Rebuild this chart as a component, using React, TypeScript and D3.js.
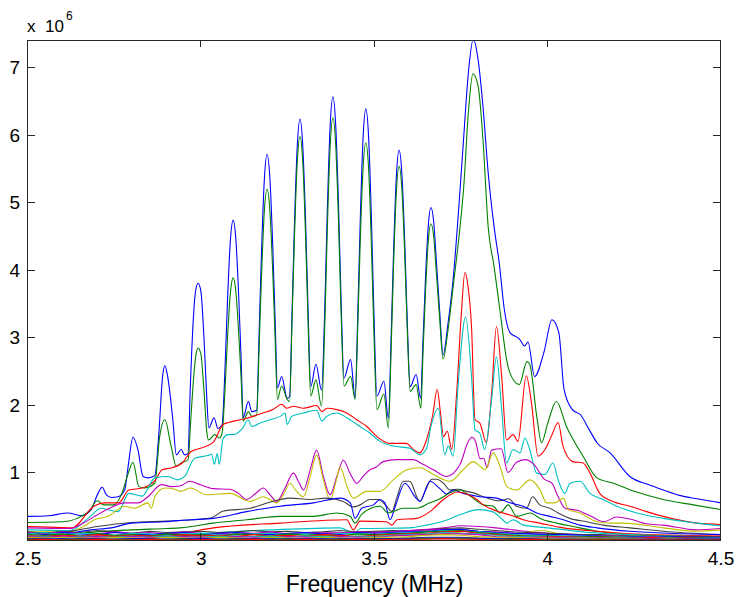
import React from 'react';
import * as d3 from 'd3';

type P = [number, number];

const X_TICKS = [2.5, 3, 3.5, 4, 4.5];
const Y_TICKS = [1, 2, 3, 4, 5, 6, 7];
const X_LABEL = 'Frequency (MHz)';

const C_B = '#0000ff', C_G = '#008000', C_R = '#ff0000', C_C = '#00bfbf', C_M = '#bf00bf', C_Y = '#bfbf00', C_K = '#404040';

// values in units of 1e6
const BLUE_1: P[] = [[2.500,0.35],[2.560,0.36],[2.615,0.40],[2.653,0.36],[2.682,0.45],[2.702,0.69],[2.714,0.78],[2.726,0.67],[2.740,0.63],[2.760,0.64],[2.779,0.74],[2.789,1.09],[2.803,1.52],[2.817,1.34],[2.832,0.94],[2.846,0.92],[2.866,0.95],[2.877,1.53],[2.889,2.45],[2.895,2.58],[2.902,2.45],[2.918,1.78],[2.928,1.26],[2.942,1.34],[2.952,1.26],[2.962,1.28],[2.968,2.20],[2.977,3.26],[2.984,3.70],[2.991,3.80],[2.999,3.68],[3.009,2.87],[3.016,2.10],[3.022,1.66],[3.037,1.81],[3.048,1.65],[3.060,1.70],[3.069,2.60],[3.076,3.57],[3.084,4.43],[3.092,4.73],[3.100,4.44],[3.108,3.62],[3.115,2.69],[3.121,1.81],[3.136,2.05],[3.146,1.90],[3.160,1.92],[3.167,3.06],[3.174,4.27],[3.182,5.33],[3.190,5.71],[3.198,5.36],[3.206,4.40],[3.213,3.29],[3.220,2.25],[3.232,2.42],[3.248,2.10],[3.255,2.12],[3.262,3.35],[3.269,4.67],[3.277,5.82],[3.285,6.23],[3.293,5.83],[3.301,4.73],[3.308,3.46],[3.316,2.27],[3.331,2.60],[3.347,2.22],[3.357,3.52],[3.364,4.91],[3.372,6.13],[3.380,6.56],[3.388,6.14],[3.396,4.98],[3.403,3.65],[3.412,2.40],[3.431,2.67],[3.444,2.10],[3.452,3.38],[3.459,4.75],[3.467,5.95],[3.475,6.38],[3.483,5.96],[3.491,4.77],[3.498,3.41],[3.507,2.13],[3.527,2.35],[3.540,1.80],[3.548,2.99],[3.555,4.26],[3.563,5.37],[3.571,5.77],[3.579,5.42],[3.587,4.44],[3.594,3.32],[3.603,2.27],[3.620,2.45],[3.633,2.10],[3.640,2.95],[3.647,3.85],[3.655,4.64],[3.663,4.92],[3.671,4.70],[3.679,4.09],[3.688,3.39],[3.698,2.74],[3.712,3.20],[3.727,3.86],[3.747,5.19],[3.757,5.93],[3.771,6.92],[3.785,7.41],[3.799,7.11],[3.813,6.42],[3.828,5.44],[3.846,4.60],[3.860,4.10],[3.875,3.40],[3.891,3.07],[3.919,2.97],[3.933,2.87],[3.943,2.93],[3.962,2.42],[3.990,2.80],[4.012,3.26],[4.032,3.07],[4.047,2.23],[4.071,1.93],[4.095,1.85],[4.120,1.63],[4.142,1.44],[4.180,1.29],[4.237,0.94],[4.290,0.82],[4.333,0.74],[4.380,0.66],[4.431,0.61],[4.500,0.55]];

const GREEN_1: P[] = [[2.500,0.26],[2.600,0.27],[2.675,0.42],[2.700,0.58],[2.718,0.52],[2.747,0.52],[2.771,0.69],[2.790,1.00],[2.803,1.15],[2.820,0.79],[2.835,0.77],[2.866,0.84],[2.880,1.53],[2.895,1.78],[2.913,1.39],[2.928,1.09],[2.942,1.14],[2.962,1.19],[2.970,1.80],[2.978,2.40],[2.985,2.75],[2.991,2.84],[2.999,2.75],[3.008,2.20],[3.016,1.60],[3.021,1.48],[3.039,1.56],[3.053,1.51],[3.060,1.58],[3.069,2.27],[3.076,3.01],[3.084,3.65],[3.092,3.88],[3.100,3.67],[3.108,3.07],[3.115,2.40],[3.121,1.76],[3.136,1.90],[3.146,1.83],[3.160,1.85],[3.167,2.85],[3.174,3.92],[3.182,4.86],[3.190,5.19],[3.198,4.88],[3.206,4.01],[3.213,3.01],[3.220,2.08],[3.232,2.28],[3.248,2.08],[3.255,2.05],[3.262,3.23],[3.269,4.48],[3.277,5.58],[3.285,5.97],[3.293,5.59],[3.301,4.51],[3.308,3.28],[3.316,2.13],[3.331,2.37],[3.347,1.98],[3.357,3.26],[3.364,4.63],[3.372,5.82],[3.380,6.25],[3.388,5.85],[3.396,4.74],[3.403,3.47],[3.412,2.28],[3.431,2.42],[3.444,2.08],[3.452,3.22],[3.459,4.44],[3.467,5.50],[3.475,5.88],[3.483,5.49],[3.491,4.38],[3.498,3.12],[3.507,1.93],[3.527,2.16],[3.540,1.66],[3.548,2.82],[3.555,4.06],[3.563,5.14],[3.571,5.53],[3.579,5.20],[3.587,4.26],[3.594,3.20],[3.603,2.20],[3.620,2.30],[3.634,1.95],[3.640,2.77],[3.647,3.64],[3.655,4.41],[3.663,4.68],[3.671,4.48],[3.679,3.92],[3.688,3.28],[3.698,2.68],[3.712,3.10],[3.727,3.75],[3.747,4.64],[3.757,5.19],[3.771,6.33],[3.784,6.90],[3.799,6.72],[3.813,5.93],[3.828,4.64],[3.845,4.05],[3.862,3.40],[3.882,2.65],[3.891,2.47],[3.918,2.30],[3.940,2.64],[3.948,2.60],[3.969,1.80],[3.982,1.44],[4.000,1.73],[4.025,2.05],[4.054,1.68],[4.102,1.24],[4.142,0.92],[4.190,0.84],[4.250,0.72],[4.333,0.60],[4.420,0.52],[4.500,0.45]];

const RED_1: P[] = [[2.500,0.20],[2.560,0.19],[2.627,0.18],[2.690,0.50],[2.723,0.55],[2.762,0.55],[2.791,0.74],[2.830,0.77],[2.868,0.89],[2.887,1.04],[2.916,1.07],[2.945,1.14],[2.971,1.31],[3.000,1.36],[3.035,1.45],[3.063,1.71],[3.079,1.74],[3.112,1.78],[3.150,1.83],[3.178,1.88],[3.207,1.93],[3.232,2.01],[3.246,1.95],[3.266,1.98],[3.295,1.95],[3.333,1.99],[3.348,1.90],[3.363,1.95],[3.391,1.93],[3.420,1.88],[3.449,1.78],[3.478,1.68],[3.507,1.53],[3.544,1.43],[3.592,1.43],[3.612,1.34],[3.631,1.29],[3.650,1.48],[3.668,1.85],[3.681,2.23],[3.690,1.90],[3.699,1.53],[3.710,1.61],[3.723,1.34],[3.737,2.17],[3.750,3.30],[3.761,3.96],[3.770,3.75],[3.780,3.16],[3.790,1.78],[3.804,1.73],[3.823,1.44],[3.838,2.17],[3.852,3.16],[3.867,2.42],[3.881,1.48],[3.900,1.56],[3.914,1.46],[3.938,2.43],[3.953,2.03],[3.972,1.24],[3.992,1.34],[4.010,1.53],[4.030,1.74],[4.044,1.39],[4.073,1.16],[4.102,1.14],[4.122,0.99],[4.150,0.69],[4.188,0.57],[4.237,0.50],[4.285,0.42],[4.333,0.35],[4.430,0.25],[4.500,0.23]];

const CYAN_1: P[] = [[2.500,0.15],[2.620,0.14],[2.680,0.35],[2.711,0.47],[2.760,0.42],[2.791,0.69],[2.830,0.65],[2.866,0.92],[2.904,0.94],[2.933,0.89],[2.952,0.94],[2.981,1.21],[3.019,1.25],[3.030,1.27],[3.038,1.12],[3.046,1.28],[3.052,1.12],[3.063,1.50],[3.077,1.56],[3.092,1.56],[3.120,1.66],[3.135,1.78],[3.146,1.68],[3.170,1.73],[3.199,1.78],[3.228,1.83],[3.242,1.88],[3.248,1.71],[3.261,1.83],[3.295,1.88],[3.333,1.92],[3.348,1.76],[3.362,1.83],[3.391,1.88],[3.420,1.81],[3.458,1.68],[3.487,1.58],[3.516,1.46],[3.554,1.39],[3.602,1.36],[3.631,1.26],[3.650,1.35],[3.663,1.68],[3.684,1.95],[3.703,1.26],[3.713,1.39],[3.727,1.24],[3.741,2.27],[3.763,3.30],[3.780,2.42],[3.790,1.63],[3.804,1.58],[3.818,1.34],[3.838,2.08],[3.852,2.71],[3.867,1.93],[3.881,1.14],[3.900,1.34],[3.920,1.29],[3.934,1.51],[3.948,1.34],[3.968,0.99],[3.992,0.97],[4.015,1.14],[4.030,0.89],[4.049,0.69],[4.064,0.84],[4.093,0.87],[4.122,0.69],[4.160,0.60],[4.199,0.50],[4.257,0.40],[4.333,0.32],[4.430,0.25],[4.500,0.21]];

const MAGENTA_1: P[] = [[2.500,0.18],[2.620,0.17],[2.660,0.25],[2.692,0.35],[2.731,0.46],[2.779,0.55],[2.818,0.55],[2.846,0.64],[2.885,0.82],[2.914,0.79],[2.939,0.80],[2.968,0.87],[2.996,0.82],[3.035,0.76],[3.083,0.75],[3.105,0.70],[3.131,0.60],[3.155,0.68],[3.179,0.77],[3.200,0.66],[3.218,0.57],[3.240,0.75],[3.266,0.99],[3.282,0.85],[3.295,0.74],[3.315,1.05],[3.333,1.33],[3.352,0.95],[3.372,0.67],[3.392,0.95],[3.410,1.18],[3.430,0.98],[3.449,0.84],[3.468,0.95],[3.487,1.04],[3.505,1.08],[3.525,1.16],[3.564,1.19],[3.612,1.19],[3.640,1.12],[3.670,1.04],[3.708,0.94],[3.747,1.12],[3.770,1.45],[3.781,1.52],[3.792,1.45],[3.805,1.20],[3.815,1.21],[3.825,1.07],[3.838,1.33],[3.866,1.35],[3.885,1.00],[3.910,1.15],[3.935,1.19],[3.960,1.12],[3.990,0.90],[4.012,0.84],[4.030,0.64],[4.050,0.47],[4.085,0.44],[4.125,0.35],[4.162,0.27],[4.199,0.34],[4.237,0.31],[4.285,0.24],[4.333,0.22],[4.430,0.15],[4.500,0.17]];

const YELLOW_1: P[] = [[2.500,0.12],[2.620,0.12],[2.660,0.20],[2.692,0.30],[2.731,0.35],[2.779,0.50],[2.808,0.47],[2.846,0.55],[2.856,0.47],[2.866,0.64],[2.895,0.77],[2.924,0.75],[2.939,0.72],[2.968,0.77],[3.015,0.67],[3.083,0.69],[3.141,0.57],[3.179,0.64],[3.218,0.55],[3.240,0.70],[3.256,0.84],[3.275,0.72],[3.295,0.64],[3.315,0.95],[3.333,1.26],[3.352,0.90],[3.372,0.59],[3.388,0.85],[3.401,1.08],[3.420,0.80],[3.439,0.62],[3.477,0.72],[3.516,0.72],[3.554,0.89],[3.593,1.04],[3.631,1.07],[3.670,0.97],[3.718,0.87],[3.756,1.04],[3.785,1.16],[3.805,1.09],[3.819,1.04],[3.843,1.29],[3.862,1.09],[3.882,0.79],[3.910,0.74],[3.949,0.89],[3.978,0.74],[3.997,0.55],[4.021,0.55],[4.045,0.62],[4.059,0.45],[4.093,0.40],[4.142,0.27],[4.180,0.25],[4.218,0.25],[4.333,0.18],[4.430,0.13],[4.500,0.15]];

const GRAY_1: P[] = [[2.500,0.10],[2.620,0.13],[2.700,0.20],[2.800,0.26],[2.900,0.28],[3.000,0.31],[3.030,0.33],[3.064,0.43],[3.141,0.47],[3.198,0.56],[3.256,0.62],[3.314,0.60],[3.362,0.62],[3.410,0.57],[3.439,0.49],[3.458,0.52],[3.487,0.60],[3.511,0.60],[3.535,0.50],[3.550,0.42],[3.564,0.62],[3.583,0.87],[3.602,0.87],[3.622,0.64],[3.631,0.57],[3.646,0.72],[3.665,0.90],[3.680,0.90],[3.699,0.84],[3.718,0.74],[3.740,0.75],[3.766,0.72],[3.790,0.69],[3.814,0.64],[3.862,0.58],[3.887,0.61],[3.910,0.50],[3.939,0.47],[3.956,0.64],[3.977,0.52],[4.006,0.47],[4.030,0.40],[4.064,0.32],[4.112,0.27],[4.160,0.22],[4.237,0.18],[4.333,0.13],[4.500,0.08]];

const BLUE_2: P[] = [[2.500,0.03],[2.600,0.08],[2.680,0.15],[2.740,0.18],[2.800,0.25],[2.890,0.27],[2.970,0.30],[3.035,0.32],[3.131,0.42],[3.227,0.50],[3.324,0.55],[3.401,0.62],[3.430,0.55],[3.444,0.32],[3.463,0.47],[3.497,0.52],[3.516,0.60],[3.530,0.55],[3.545,0.30],[3.560,0.50],[3.588,0.84],[3.617,0.64],[3.631,0.57],[3.660,0.87],[3.689,0.76],[3.708,0.68],[3.727,0.74],[3.756,0.69],[3.804,0.64],[3.852,0.62],[3.891,0.55],[3.929,0.50],[3.968,0.40],[4.006,0.35],[4.045,0.30],[4.093,0.22],[4.142,0.18],[4.237,0.13],[4.500,0.08]];

const GREEN_2: P[] = [[2.500,0.05],[2.600,0.07],[2.700,0.12],[2.800,0.15],[2.900,0.17],[2.939,0.18],[3.035,0.25],[3.131,0.30],[3.227,0.35],[3.324,0.35],[3.391,0.40],[3.430,0.35],[3.444,0.25],[3.463,0.38],[3.516,0.50],[3.540,0.40],[3.583,0.47],[3.622,0.47],[3.660,0.55],[3.689,0.61],[3.718,0.70],[3.747,0.74],[3.776,0.65],[3.814,0.52],[3.843,0.50],[3.862,0.40],[3.886,0.52],[3.910,0.35],[3.949,0.40],[3.978,0.32],[4.026,0.25],[4.073,0.20],[4.142,0.13],[4.237,0.08],[4.500,0.05]];

const RED_2: P[] = [[2.500,0.04],[2.700,0.06],[2.850,0.08],[2.939,0.10],[3.035,0.18],[3.227,0.25],[3.420,0.30],[3.439,0.15],[3.458,0.28],[3.535,0.27],[3.550,0.22],[3.565,0.30],[3.622,0.32],[3.660,0.42],[3.699,0.60],[3.740,0.71],[3.766,0.68],[3.795,0.60],[3.814,0.52],[3.852,0.43],[3.891,0.37],[3.929,0.30],[3.977,0.25],[4.045,0.18],[4.142,0.13],[4.237,0.09],[4.500,0.06]];

const CYAN_2: P[] = [[2.500,0.03],[2.800,0.06],[3.000,0.10],[3.200,0.15],[3.400,0.18],[3.440,0.10],[3.460,0.17],[3.600,0.18],[3.650,0.22],[3.700,0.28],[3.750,0.38],[3.800,0.45],[3.840,0.42],[3.870,0.30],[3.882,0.25],[3.900,0.30],[3.930,0.22],[4.000,0.18],[4.100,0.12],[4.300,0.07],[4.500,0.05]];

const MAGENTA_2: P[] = [[2.500,0.05],[2.800,0.06],[3.100,0.08],[3.300,0.10],[3.500,0.12],[3.600,0.14],[3.700,0.18],[3.750,0.21],[3.800,0.20],[3.850,0.18],[3.900,0.15],[3.950,0.12],[4.000,0.10],[4.200,0.06],[4.500,0.04]];

const YELLOW_2: P[] = [[2.500,0.04],[3.000,0.05],[3.500,0.06],[3.700,0.09],[3.780,0.13],[3.850,0.10],[3.900,0.08],[3.980,0.14],[4.050,0.08],[4.300,0.05],[4.500,0.03]];

const BAND_FREQ = [2.50,2.55,2.60,2.65,2.70,2.75,2.80,2.85,2.90,2.95,3.00,3.05,3.10,3.15,3.20,3.25,3.30,3.35,3.40,3.45,3.50,3.55,3.60,3.65,3.70,3.75,3.80,3.85,3.90,3.95,4.00,4.05,4.10,4.15,4.20,4.25,4.30,4.35,4.40,4.45,4.50];
const BAND_1 = [0.12,0.10,0.13,0.11,0.14,0.12,0.10,0.13,0.11,0.12,0.13,0.11,0.12,0.14,0.12,0.13,0.11,0.12,0.14,0.12,0.13,0.14,0.13,0.15,0.17,0.18,0.16,0.14,0.12,0.11,0.10,0.09,0.08,0.08,0.07,0.06,0.06,0.06,0.05,0.05,0.05];
const BAND_2 = [0.10,0.08,0.11,0.09,0.08,0.11,0.09,0.08,0.10,0.11,0.08,0.10,0.11,0.09,0.08,0.10,0.11,0.09,0.08,0.11,0.10,0.11,0.12,0.13,0.15,0.16,0.13,0.11,0.10,0.09,0.08,0.08,0.07,0.06,0.05,0.05,0.04,0.05,0.04,0.04,0.03];
const BAND_3 = [0.08,0.07,0.09,0.06,0.09,0.07,0.08,0.06,0.09,0.07,0.08,0.06,0.09,0.08,0.06,0.09,0.07,0.08,0.06,0.09,0.08,0.09,0.10,0.12,0.13,0.14,0.11,0.09,0.07,0.06,0.06,0.05,0.05,0.05,0.04,0.04,0.03,0.04,0.03,0.03,0.02];
const BAND_4 = [0.07,0.05,0.07,0.06,0.08,0.05,0.07,0.06,0.05,0.08,0.06,0.07,0.05,0.08,0.06,0.07,0.05,0.08,0.07,0.05,0.07,0.08,0.09,0.10,0.12,0.13,0.10,0.08,0.06,0.05,0.05,0.05,0.04,0.04,0.04,0.03,0.04,0.03,0.03,0.02,0.02];
const BAND_5 = [0.06,0.05,0.04,0.06,0.05,0.04,0.06,0.04,0.06,0.05,0.04,0.06,0.04,0.05,0.06,0.04,0.06,0.05,0.04,0.06,0.05,0.07,0.08,0.09,0.11,0.10,0.09,0.07,0.05,0.05,0.04,0.04,0.04,0.03,0.03,0.03,0.02,0.03,0.02,0.02,0.02];
const BAND_6 = [0.05,0.04,0.06,0.04,0.05,0.03,0.05,0.04,0.03,0.05,0.04,0.03,0.05,0.04,0.03,0.05,0.04,0.03,0.05,0.04,0.04,0.06,0.07,0.08,0.09,0.09,0.08,0.05,0.04,0.04,0.04,0.03,0.03,0.03,0.02,0.03,0.02,0.02,0.02,0.01,0.02];
const BAND_7 = [0.04,0.03,0.04,0.03,0.02,0.04,0.03,0.02,0.04,0.03,0.02,0.04,0.03,0.02,0.04,0.03,0.02,0.04,0.03,0.02,0.04,0.04,0.05,0.07,0.08,0.07,0.05,0.04,0.04,0.03,0.03,0.02,0.03,0.02,0.02,0.02,0.01,0.02,0.01,0.01,0.01];
const BAND_8 = [0.02,0.02,0.01,0.02,0.02,0.01,0.02,0.02,0.01,0.02,0.02,0.01,0.02,0.02,0.01,0.02,0.02,0.01,0.02,0.02,0.02,0.02,0.03,0.04,0.04,0.04,0.03,0.02,0.02,0.02,0.01,0.01,0.01,0.01,0.01,0.01,0.01,0.01,0.01,0.01,0.01];
const BAND_9 = [0.01,0.01,0.02,0.01,0.01,0.01,0.02,0.01,0.01,0.01,0.02,0.01,0.01,0.01,0.02,0.01,0.01,0.02,0.01,0.01,0.01,0.02,0.02,0.03,0.03,0.03,0.02,0.02,0.01,0.01,0.01,0.01,0.01,0.01,0.01,0.01,0.01,0.01,0.01,0.01,0.01];
const BAND_10 = [0.01,0.00,0.01,0.01,0.00,0.01,0.01,0.00,0.01,0.01,0.00,0.01,0.01,0.00,0.01,0.01,0.00,0.01,0.01,0.00,0.01,0.01,0.01,0.02,0.02,0.02,0.01,0.01,0.01,0.00,0.01,0.00,0.00,0.01,0.00,0.00,0.00,0.00,0.00,0.00,0.00];
const BAND_11 = [0.00,0.01,0.00,0.00,0.01,0.00,0.00,0.01,0.00,0.00,0.01,0.00,0.00,0.01,0.00,0.00,0.01,0.00,0.00,0.01,0.00,0.01,0.01,0.01,0.02,0.01,0.01,0.00,0.00,0.01,0.00,0.00,0.00,0.00,0.00,0.00,0.00,0.00,0.00,0.00,0.00];
const BAND_12 = [0.09,0.11,0.08,0.10,0.09,0.07,0.10,0.09,0.07,0.09,0.10,0.08,0.07,0.09,0.10,0.08,0.09,0.07,0.10,0.09,0.08,0.10,0.11,0.12,0.14,0.13,0.12,0.10,0.08,0.07,0.07,0.06,0.06,0.05,0.05,0.04,0.04,0.04,0.03,0.03,0.03];
const BAND_13 = [0.11,0.09,0.12,0.10,0.09,0.12,0.10,0.11,0.09,0.12,0.10,0.09,0.11,0.10,0.12,0.09,0.11,0.10,0.09,0.12,0.11,0.12,0.14,0.15,0.16,0.15,0.13,0.12,0.10,0.09,0.08,0.08,0.07,0.06,0.06,0.05,0.05,0.05,0.04,0.04,0.04];

const MAIN_SERIES: { data: P[]; color: string }[] = [
  { data: BLUE_1, color: C_B },
  { data: GREEN_1, color: C_G },
  { data: RED_1, color: C_R },
  { data: CYAN_1, color: C_C },
  { data: MAGENTA_1, color: C_M },
  { data: YELLOW_1, color: C_Y },
  { data: GRAY_1, color: C_K },
  { data: BLUE_2, color: C_B },
  { data: GREEN_2, color: C_G },
  { data: RED_2, color: C_R },
  { data: CYAN_2, color: C_C },
  { data: MAGENTA_2, color: C_M },
  { data: YELLOW_2, color: C_Y },
];

const BAND_SERIES: { vals: number[]; color: string }[] = [
  { vals: BAND_1, color: C_K },
  { vals: BAND_13, color: C_M },
  { vals: BAND_2, color: C_B },
  { vals: BAND_12, color: C_C },
  { vals: BAND_3, color: C_G },
  { vals: BAND_4, color: C_R },
  { vals: BAND_5, color: C_C },
  { vals: BAND_6, color: C_M },
  { vals: BAND_7, color: C_Y },
  { vals: BAND_8, color: C_K },
  { vals: BAND_9, color: C_B },
  { vals: BAND_10, color: C_G },
  { vals: BAND_11, color: C_R },
];

export default function App() {
  const W = 736, H = 597;
  const L = 28, R = 721, T = 40, B = 540;
  const x = d3.scaleLinear().domain([2.5, 4.5]).range([L, R]);
  const y = d3.scaleLinear().domain([0, 7.4]).range([B, T]);
  const smooth = d3.line<P>().x(d => x(d[0])).y(d => y(d[1])).curve(d3.curveMonotoneX);
  const straight = d3.line<P>().x(d => x(d[0])).y(d => y(d[1])).curve(d3.curveLinear);
  const font = "'Liberation Sans', Arial, Helvetica, sans-serif";
  const tick = 7;

  return (
    <svg width={W} height={H} viewBox={`0 0 ${W} ${H}`}
      style={{ position: 'absolute', left: 0, top: 0, background: '#fff' }}
      fontFamily={font}>
      <defs>
        <clipPath id="plotclip">
          <rect x={L} y={T} width={R - L} height={B - T} />
        </clipPath>
      </defs>
      <rect x={0} y={0} width={W} height={H} fill="#fff" />
      <g clipPath="url(#plotclip)" fill="none" strokeWidth={1.1}>
        {MAIN_SERIES.map((s, i) => (
          <path key={'m' + i} d={smooth(s.data) || ''} stroke={s.color} />
        ))}
        {BAND_SERIES.map((s, i) => {
          const pts: P[] = BAND_FREQ.slice(0, s.vals.length).map((f, j) => [f, s.vals[j]] as P);
          return <path key={'b' + i} d={straight(pts) || ''} stroke={s.color} />;
        })}
      </g>
      <rect x={L - 0.5} y={T + 0.5} width={R - L} height={B - T} fill="none" stroke="#262626" strokeWidth={1} />
      {X_TICKS.map(v => (
        <g key={'xt' + v} stroke="#262626" strokeWidth={1}>
          <line x1={Math.round(x(v)) - 0.5} x2={Math.round(x(v)) - 0.5} y1={B} y2={B - tick} />
          <line x1={Math.round(x(v)) - 0.5} x2={Math.round(x(v)) - 0.5} y1={T} y2={T + tick} />
        </g>
      ))}
      {Y_TICKS.map(v => (
        <g key={'yt' + v} stroke="#262626" strokeWidth={1}>
          <line x1={L} x2={L + tick} y1={Math.round(y(v)) + 0.5} y2={Math.round(y(v)) + 0.5} />
          <line x1={R - 1} x2={R - 1 - tick} y1={Math.round(y(v)) + 0.5} y2={Math.round(y(v)) + 0.5} />
        </g>
      ))}
      {X_TICKS.map(v => (
        <text key={'xl' + v} x={x(v)} y={565} fontSize={19} textAnchor="middle" fill="#000">{String(v)}</text>
      ))}
      {Y_TICKS.map(v => (
        <text key={'yl' + v} x={20} y={y(v) + 7} fontSize={19} textAnchor="end" fill="#000">{String(v)}</text>
      ))}
      <text x={27} y={32} fontSize={17} fill="#000">x</text>
      <text x={45} y={32} fontSize={17} fill="#000">10</text>
      <text x={66} y={20} fontSize={12} fill="#000">6</text>
      <text x={(L + R) / 2} y={592} fontSize={23} textAnchor="middle" fill="#000">{X_LABEL}</text>
    </svg>
  );
}
